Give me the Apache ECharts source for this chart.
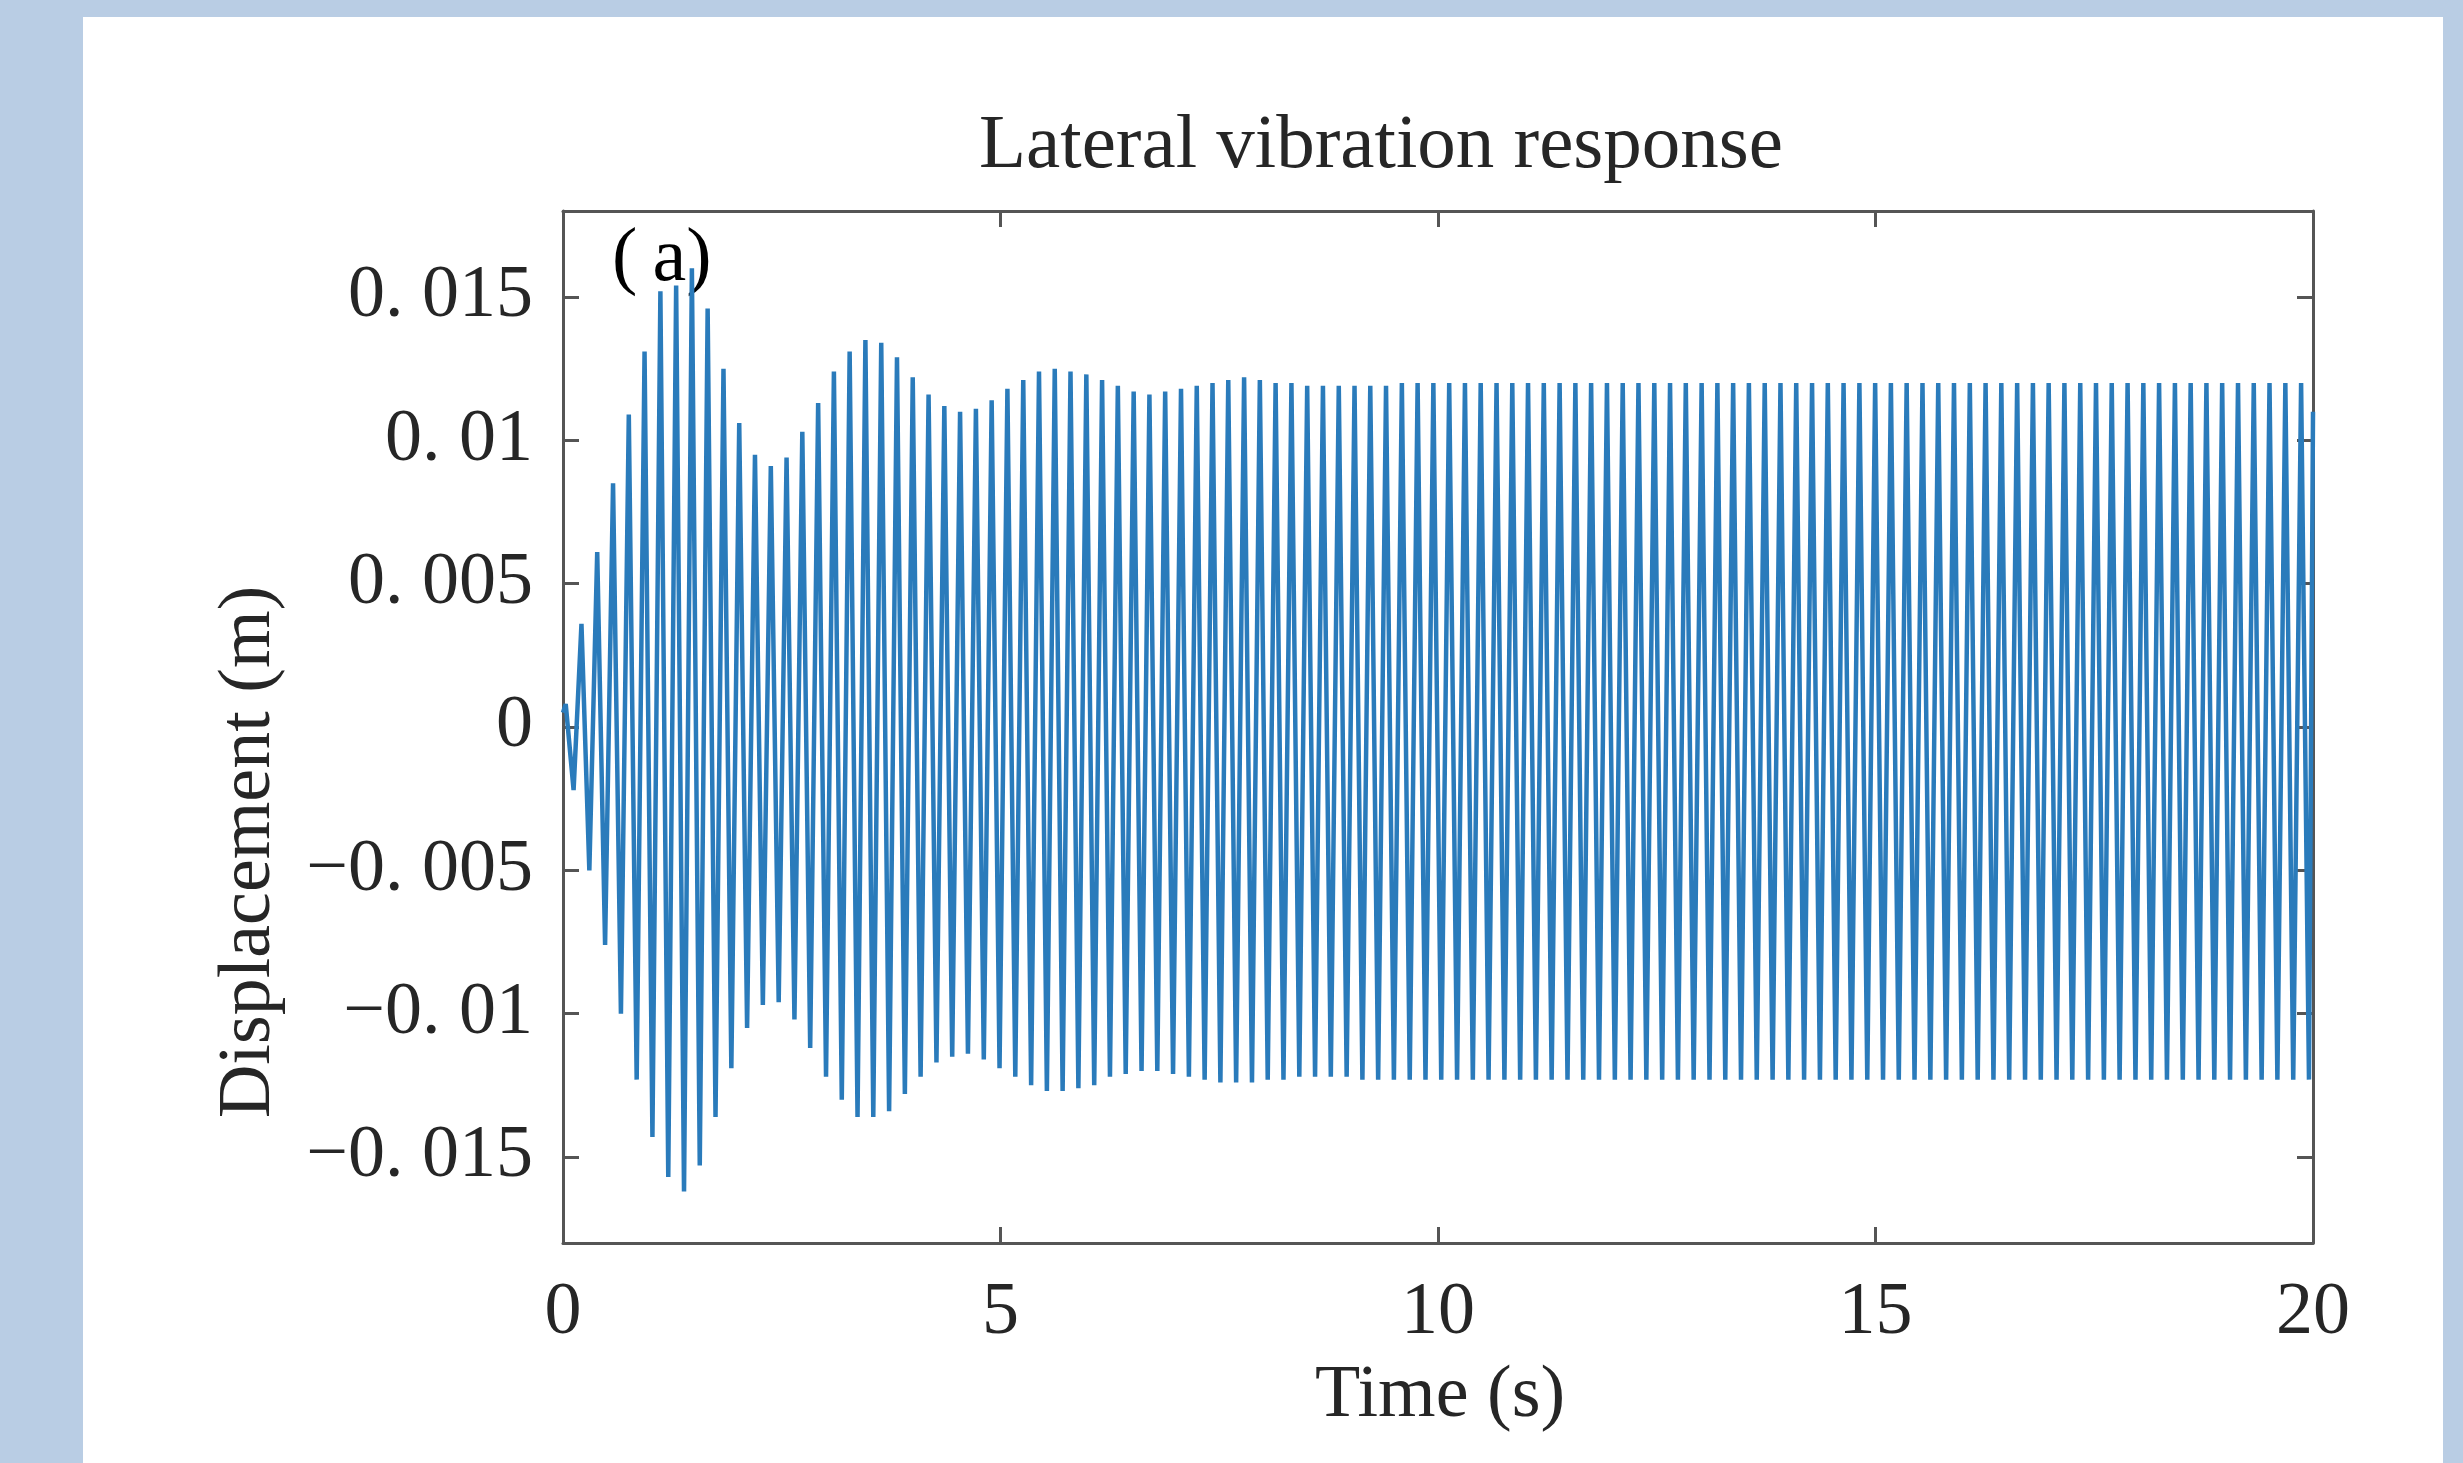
<!DOCTYPE html>
<html>
<head>
<meta charset="utf-8">
<script src="https://cdn.jsdelivr.net/npm/echarts@6/dist/echarts.min.js"></script>
<style>
html,body{margin:0;padding:0;background:#b9cde4;}
#chart{width:2463px;height:1463px;}
</style>
</head>
<body>
<div id="chart"></div>
<script>
// ---- data ----
const chartTitle = 'Lateral vibration response';
const xName = 'Time (s)';
const yName = 'Displacement (m)';
const panelTag = '(\u2009a)';
const xTicks = [0, 5, 10, 15, 20];
const yTickValues = [-0.015, -0.01, -0.005, 0, 0.005, 0.01, 0.015];
const yTickLabels = ['\u22120. 015', '\u22120. 01', '\u22120. 005', '0', '0. 005', '0. 01', '0. 015'];

const startPoint = [0, 0.0005];
const endPoint = [20, 0.0110];

// times of the positive peaks (s)
const peakTimes = [
  0.031, 0.211, 0.391, 0.572, 0.752, 0.932, 1.113, 1.293, 1.473, 1.653,
  1.834, 2.014, 2.194, 2.375, 2.555, 2.735, 2.916, 3.096, 3.276, 3.456,
  3.637, 3.817, 3.997, 4.178, 4.358, 4.538, 4.719, 4.899, 5.079, 5.260,
  5.440, 5.620, 5.800, 5.981, 6.161, 6.341, 6.522, 6.702, 6.882, 7.063,
  7.243, 7.423, 7.603, 7.784, 7.964, 8.144, 8.325, 8.505, 8.685, 8.866,
  9.046, 9.226, 9.406, 9.587, 9.767, 9.947, 10.128, 10.308, 10.488, 10.669,
  10.849, 11.029, 11.209, 11.390, 11.570, 11.750, 11.931, 12.111, 12.291, 12.472,
  12.652, 12.832, 13.013, 13.193, 13.373, 13.553, 13.734, 13.914, 14.094, 14.275,
  14.455, 14.635, 14.816, 14.996, 15.176, 15.356, 15.537, 15.717, 15.897, 16.078,
  16.258, 16.438, 16.619, 16.799, 16.979, 17.159, 17.340, 17.520, 17.700, 17.881,
  18.061, 18.241, 18.422, 18.602, 18.782, 18.962, 19.143, 19.323, 19.503, 19.684,
  19.864
];
// displacement at the positive peaks (m)
const peakValues = [
  0.0008, 0.0036, 0.0061, 0.0085, 0.0109, 0.0131, 0.0152, 0.0154, 0.0160, 0.0146,
  0.0125, 0.0106, 0.0095, 0.0091, 0.0094, 0.0103, 0.0113, 0.0124, 0.0131, 0.0135,
  0.0134, 0.0129, 0.0122, 0.0116, 0.0112, 0.0110, 0.0111, 0.0114, 0.0118, 0.0121,
  0.0124, 0.0125, 0.0124, 0.0123, 0.0121, 0.0119, 0.0117, 0.0116, 0.0117, 0.0118,
  0.0119, 0.0120, 0.0121, 0.0122, 0.0121, 0.0120, 0.0120, 0.0119, 0.0119, 0.0119,
  0.0119, 0.0119, 0.0119, 0.0120, 0.0120, 0.0120, 0.0120, 0.0120, 0.0120, 0.0120,
  0.0120, 0.0120, 0.0120, 0.0120, 0.0120, 0.0120, 0.0120, 0.0120, 0.0120, 0.0120,
  0.0120, 0.0120, 0.0120, 0.0120, 0.0120, 0.0120, 0.0120, 0.0120, 0.0120, 0.0120,
  0.0120, 0.0120, 0.0120, 0.0120, 0.0120, 0.0120, 0.0120, 0.0120, 0.0120, 0.0120,
  0.0120, 0.0120, 0.0120, 0.0120, 0.0120, 0.0120, 0.0120, 0.0120, 0.0120, 0.0120,
  0.0120, 0.0120, 0.0120, 0.0120, 0.0120, 0.0120, 0.0120, 0.0120, 0.0120, 0.0120,
  0.0120
];
// times of the negative troughs (s)
const troughTimes = [
  0.121, 0.301, 0.481, 0.662, 0.842, 1.022, 1.203, 1.383, 1.563, 1.743,
  1.924, 2.104, 2.284, 2.465, 2.645, 2.825, 3.006, 3.186, 3.366, 3.546,
  3.727, 3.907, 4.087, 4.268, 4.448, 4.628, 4.809, 4.989, 5.169, 5.350,
  5.530, 5.710, 5.890, 6.071, 6.251, 6.431, 6.612, 6.792, 6.972, 7.153,
  7.333, 7.513, 7.693, 7.874, 8.054, 8.234, 8.415, 8.595, 8.775, 8.956,
  9.136, 9.316, 9.496, 9.677, 9.857, 10.037, 10.218, 10.398, 10.578, 10.759,
  10.939, 11.119, 11.299, 11.480, 11.660, 11.840, 12.021, 12.201, 12.381, 12.562,
  12.742, 12.922, 13.103, 13.283, 13.463, 13.643, 13.824, 14.004, 14.184, 14.365,
  14.545, 14.725, 14.906, 15.086, 15.266, 15.446, 15.627, 15.807, 15.987, 16.168,
  16.348, 16.528, 16.709, 16.889, 17.069, 17.249, 17.430, 17.610, 17.790, 17.971,
  18.151, 18.331, 18.512, 18.692, 18.872, 19.052, 19.233, 19.413, 19.593, 19.774,
  19.954
];
// displacement at the negative troughs (m)
const troughValues = [
  -0.0022, -0.0050, -0.0076, -0.0100, -0.0123, -0.0143, -0.0157, -0.0162, -0.0153, -0.0136,
  -0.0119, -0.0105, -0.0097, -0.0096, -0.0102, -0.0112, -0.0122, -0.0130, -0.0136, -0.0136,
  -0.0134, -0.0128, -0.0122, -0.0117, -0.0115, -0.0114, -0.0116, -0.0119, -0.0122, -0.0125,
  -0.0127, -0.0127, -0.0126, -0.0125, -0.0122, -0.0121, -0.0120, -0.0120, -0.0121, -0.0122,
  -0.0123, -0.0124, -0.0124, -0.0124, -0.0123, -0.0123, -0.0122, -0.0122, -0.0122, -0.0122,
  -0.0123, -0.0123, -0.0123, -0.0123, -0.0123, -0.0123, -0.0123, -0.0123, -0.0123, -0.0123,
  -0.0123, -0.0123, -0.0123, -0.0123, -0.0123, -0.0123, -0.0123, -0.0123, -0.0123, -0.0123,
  -0.0123, -0.0123, -0.0123, -0.0123, -0.0123, -0.0123, -0.0123, -0.0123, -0.0123, -0.0123,
  -0.0123, -0.0123, -0.0123, -0.0123, -0.0123, -0.0123, -0.0123, -0.0123, -0.0123, -0.0123,
  -0.0123, -0.0123, -0.0123, -0.0123, -0.0123, -0.0123, -0.0123, -0.0123, -0.0123, -0.0123,
  -0.0123, -0.0123, -0.0123, -0.0123, -0.0123, -0.0123, -0.0123, -0.0123, -0.0123, -0.0123,
  -0.0123
];

// ---- build the series ----
const seriesData = [startPoint];
for (let i = 0; i < peakTimes.length; i++) {
  seriesData.push([peakTimes[i], peakValues[i]]);
  seriesData.push([troughTimes[i], troughValues[i]]);
}
seriesData.push(endPoint);

const FONT = "'Liberation Serif', 'Times New Roman', serif";
const TEXT = '#262626';
const AXIS = '#555555';

function yLabel(v) {
  for (let i = 0; i < yTickValues.length; i++) {
    if (Math.abs(yTickValues[i] - v) < 1e-9) return yTickLabels[i];
  }
  return '';
}

const chart = echarts.init(document.getElementById('chart'), null, {renderer: 'canvas'});
const axisCommon = {
  axisLine: {show: true, onZero: false, lineStyle: {color: AXIS, width: 3}},
  axisTick: {show: true, inside: true, length: 16, lineStyle: {color: AXIS, width: 3}},
  splitLine: {show: false}
};
chart.setOption({
  backgroundColor: '#b9cde4',
  animation: false,
  graphic: [
    {type: 'rect', z: -10, shape: {x: 83, y: 17, width: 2360, height: 1446}, style: {fill: '#ffffff'}},
    {type: 'text', x: 1381, y: 147, style: {text: chartTitle, font: '77px ' + FONT, fill: TEXT, textAlign: 'center', textVerticalAlign: 'middle'}},
    {type: 'text', x: 1440, y: 1397, style: {text: xName, font: '74px ' + FONT, fill: TEXT, textAlign: 'center', textVerticalAlign: 'middle'}},
    {type: 'text', x: 250, y: 852, rotation: Math.PI / 2, style: {text: yName, font: '74px ' + FONT, fill: TEXT, textAlign: 'center', textVerticalAlign: 'middle'}},
    {type: 'text', x: 612, y: 260, style: {text: panelTag, font: '76px ' + FONT, fill: '#000000', textAlign: 'left', textVerticalAlign: 'middle'}}
  ],
  grid: {left: 563, top: 211, right: 150, bottom: 220, containLabel: false},
  xAxis: [
    Object.assign({}, axisCommon, {
      type: 'value', min: xTicks[0], max: xTicks[xTicks.length - 1], interval: 5, position: 'bottom',
      axisLabel: {show: true, fontSize: 74, fontFamily: FONT, color: TEXT, margin: 34}
    }),
    Object.assign({}, axisCommon, {
      type: 'value', min: xTicks[0], max: xTicks[xTicks.length - 1], interval: 5, position: 'top',
      axisLabel: {show: false}
    })
  ],
  yAxis: [
    Object.assign({}, axisCommon, {
      type: 'value', min: -0.018, max: 0.018, position: 'left',
      axisTick: Object.assign({}, axisCommon.axisTick, {customValues: yTickValues}),
      axisLabel: {show: true, customValues: yTickValues, formatter: yLabel, fontSize: 74, fontFamily: FONT, color: TEXT, margin: 30}
    }),
    Object.assign({}, axisCommon, {
      type: 'value', min: -0.018, max: 0.018, position: 'right',
      axisTick: Object.assign({}, axisCommon.axisTick, {customValues: yTickValues}),
      axisLabel: {show: false, customValues: yTickValues}
    })
  ],
  series: [{
    type: 'line',
    xAxisIndex: 0, yAxisIndex: 0,
    data: seriesData,
    showSymbol: false,
    symbol: 'none',
    lineStyle: {color: '#2a7bbb', width: 4.5},
    clip: true
  }]
});
</script>
</body>
</html>
